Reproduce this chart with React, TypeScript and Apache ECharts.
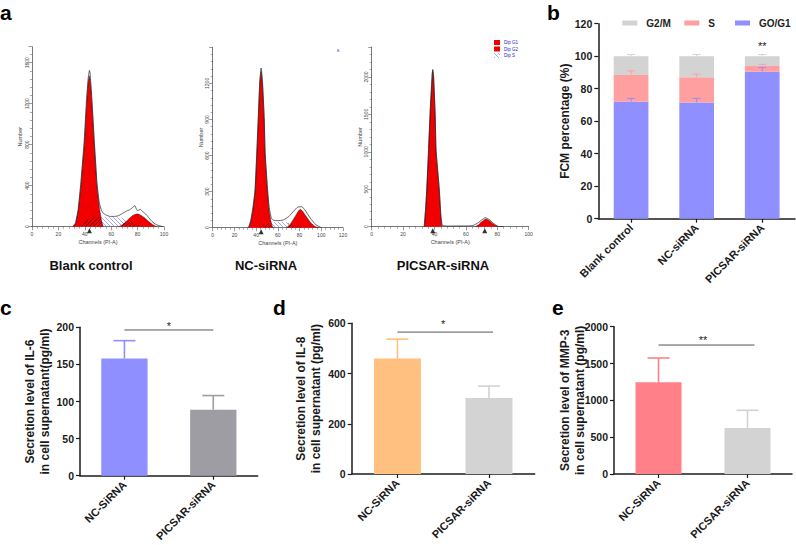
import React, { useEffect, useRef } from "react";
import * as echarts from "echarts";

const FONT = "Liberation Sans";

// ---- panel a : flow cytometry histograms [channel, number]
const a1G1 = [[31,0],[33,30],[35,160],[37,400],[38.3,600],[39.6,800],[40.5,1000],[41.4,1200],[42.5,1400],[43.4,1470],[44.3,1400],[45.4,1200],[46.3,1000],[47.2,800],[48.2,600],[49.2,400],[50,300],[51.5,150],[53,40],[54,0]];
const a1G2 = [[65.4,0],[68,15],[71,45],[74,85],[77,115],[79.8,124],[82,115],[85,90],[88,55],[91,25],[94.4,0]];
const a1S = [[36,0],[38,20],[40,45],[43,70],[46,88],[48,95],[52,98],[55,98],[60,92],[64,90],[68,88],[70,75],[73,55],[76,40],[80,22],[84,10],[88,0]];
const a1Over = [[37,0],[40,45],[43,70],[46,88],[48,95],[50,98],[51.5,90],[53,40],[54,0],[65.4,0],[68,25],[70,40],[73,55],[76,40],[80,22],[84,10],[88,0]];
const a1Out = [[31,0],[33,40],[35,170],[37,430],[39.5,830],[41.3,1240],[42.5,1440],[43.5,1525],[44,1500],[45.3,1260],[47.2,840],[49.2,430],[51,230],[52.8,155],[54,130],[56,115],[59,100],[62,100],[65,105],[67,118],[70,140],[72,155],[74,165],[76,185],[77.9,205],[79,175],[80,155],[82,170],[84,145],[86,125],[88,95],[91,50],[94,20],[97.7,5],[99,0]];
const a1Tri = [[43.5,0]];

const a2G1 = [[33,0],[35,50],[37,150],[39,300],[40.6,600],[42,900],[43.4,1200],[44.6,1300],[45.8,1200],[47.4,900],[48.3,600],[50.5,300],[52,140],[54,40],[55.4,0]];
const a2G2 = [[68,0],[71,25],[74,65],[77,110],[80.6,153],[83,135],[86,95],[90,45],[94,12],[97.5,0]];
const a2S = [[42,0],[46,20],[50,38],[55,45],[60,48],[65,50],[69,45],[73,30],[78,15],[85,0]];
const a2Over = [[44,0],[46,20],[50,38],[53,35],[55.4,0],[68,0],[70,40],[73,30],[78,15],[85,0]];
const a2Out = [[33,0],[35,60],[37,165],[39,320],[40.6,630],[42,930],[43.4,1230],[44.6,1328],[45.8,1225],[47.4,925],[48.3,625],[50.5,320],[52,170],[54,80],[56,62],[60,58],[65,64],[70,92],[75,142],[78,170],[82,175],[85,147],[90,78],[95,25],[100,0]];
const a2Tri = [[44.6,0]];

const a3G1 = [[33.6,0],[34.4,250],[35.1,500],[36.2,1000],[37.2,1500],[38.5,2000],[38.9,2085],[39.4,2000],[40.4,1500],[41,1000],[43,500],[44,150],[44.7,0]];
const a3G2 = [[66,0],[68,25],[70,65],[72.8,103],[75,80],[77.5,35],[80.2,0]];
const a3S = [[44,0],[48,8],[55,10],[62,10],[66,8],[70,0]];
const a3Over = [[64,0],[66,8],[68,8],[70,0]];
const a3Out = [[33.4,0],[34.4,265],[35.1,520],[36.2,1030],[37.2,1530],[38.5,2040],[38.9,2100],[39.4,2030],[40.4,1520],[41,1020],[43,520],[44,170],[44.9,20],[48,8],[55,10],[62,10],[65,20],[68,55],[70,90],[72.5,120],[75,95],[77.5,45],[80.5,5],[84,0]];
const a3Tri = [[38.9,0],[72,0]];

// ---- panel b : stacked percentages
const bCats = ["Blank control", "NC-siRNA", "PICSAR-siRNA"];
const bG1 = [72, 71.5, 90.5];
const bS = [16.5, 15.5, 3.5];
const bG2 = [11.5, 13, 6];
const bG1Top = [74, 74, 93];
const bSTop = [91, 89, 95];
const bG2Top = [101, 101, 101];

// ---- panels c, d, e
const cCats = ["NC-SiRNA", "PICSAR-siRNA"];
const cVals = [158, 89];
const cTops = [182, 108];
const dVals = [460, 303];
const dTops = [537, 350];
const eVals = [1245, 625];
const eTops = [1575, 865];

function hatch(color: string, dir: number) {
  const s = 4;
  const c = document.createElement("canvas");
  c.width = s;
  c.height = s;
  const g = c.getContext("2d") as CanvasRenderingContext2D;
  g.strokeStyle = color;
  g.lineWidth = 0.6;
  g.beginPath();
  if (dir > 0) {
    g.moveTo(0, 0); g.lineTo(s, s);
  } else {
    g.moveTo(s, 0); g.lineTo(0, s);
  }
  g.stroke();
  return c;
}

const tiny = { fontFamily: FONT, fontSize: 5, color: "#444" };
const plain = (v: number) => String(v);

function flowAxes(xMax: number, yMax: number, yInt: number, yGap: number) {
  const line = { show: true, lineStyle: { color: "#555", width: 0.8 } };
  return {
    x: {
      type: "value", min: 0, max: xMax, interval: 20, splitLine: { show: false },
      axisLine: line,
      axisTick: { show: true, length: 3.5, lineStyle: { color: "#555", width: 0.6 } },
      minorTick: { show: true, splitNumber: 5, length: 2, lineStyle: { color: "#555", width: 0.5 } },
      axisLabel: { ...tiny, margin: 5, formatter: plain },
      name: "Channels (PI-A)", nameLocation: "middle", nameGap: 12, nameTextStyle: { ...tiny, fontSize: 5.5 },
    },
    y: {
      type: "value", min: 0, max: yMax, interval: yInt, splitLine: { show: false },
      axisLine: line,
      axisTick: { show: true, length: 3.5, lineStyle: { color: "#555", width: 0.6 } },
      minorTick: { show: true, splitNumber: 5, length: 2, lineStyle: { color: "#555", width: 0.5 } },
      axisLabel: { ...tiny, rotate: 90, margin: 3, showMaxLabel: false, showMinLabel: true, formatter: plain },
      name: "Number", nameLocation: "middle", nameRotate: 90, nameGap: yGap, nameTextStyle: { ...tiny, fontSize: 5.5 },
    },
  };
}

function barAxes(cats: string[], yMax: number, yInt: number, name: string, nameGap: number, nameSize: number) {
  const line = { show: true, lineStyle: { color: "#1c1c1c", width: 1.5 } };
  return {
    x: {
      type: "category", data: cats,
      axisLine: line,
      axisTick: { show: true, alignWithLabel: true, length: 4, lineStyle: { color: "#1c1c1c", width: 1.2 } },
      axisLabel: { fontFamily: FONT, fontWeight: "bold", fontSize: 11, color: "#1a1a1a", rotate: 45, margin: 7, interval: 0 },
    },
    y: {
      type: "value", min: 0, max: yMax, interval: yInt, splitLine: { show: false },
      axisLine: line,
      axisTick: { show: true, length: 4, lineStyle: { color: "#1c1c1c", width: 1.2 } },
      axisLabel: { fontFamily: FONT, fontWeight: "bold", fontSize: 10.5, color: "#1a1a1a", margin: 6, formatter: plain },
      name, nameLocation: "middle", nameRotate: 90, nameGap, nameMoveOverlap: false,
      nameTextStyle: { fontFamily: FONT, fontWeight: "bold", fontSize: nameSize, color: "#1a1a1a", lineHeight: 15 },
    },
  };
}

function errSeries(ax: number, bases: number[], tops: number[], colors: string[], cap: number, w: number) {
  return {
    type: "custom", xAxisIndex: ax, yAxisIndex: ax, z: 4, silent: true,
    data: bases.map((b, i) => [i, b, tops[i]]),
    encode: { x: 0, y: [1, 2] },
    renderItem: (params: any, api: any) => {
      const i = api.value(0);
      const a = api.coord([i, api.value(1)]);
      const b = api.coord([i, api.value(2)]);
      const style = { stroke: colors[params.dataIndex], lineWidth: w, fill: "none" };
      return {
        type: "group",
        children: [
          { type: "line", shape: { x1: a[0], y1: a[1], x2: b[0], y2: b[1] }, style },
          { type: "line", shape: { x1: b[0] - cap / 2, y1: b[1], x2: b[0] + cap / 2, y2: b[1] }, style },
        ],
      };
    },
  };
}

function sigSeries(ax: number, value: number, extraRight: number, star: string, starDx: number, starDy: number, showLine: boolean, from = 0, to = 1) {
  return {
    type: "custom", xAxisIndex: ax, yAxisIndex: ax, z: 5, silent: true,
    data: [[from, to, value]],
    encode: { x: [0, 1], y: 2 },
    renderItem: (_p: any, api: any) => {
      const a = api.coord([api.value(0), api.value(2)]);
      const b = api.coord([api.value(1), api.value(2)]);
      const children: any[] = [];
      if (showLine) {
        children.push({ type: "line", shape: { x1: a[0], y1: a[1], x2: b[0] + extraRight, y2: b[1] }, style: { stroke: "#555", lineWidth: 1, fill: "none" } });
      }
      children.push({
        type: "text",
        style: { text: star, x: (a[0] + b[0]) / 2 + starDx, y: a[1] + starDy, fill: "#222", font: `11px "${FONT}"`, textAlign: "center", textVerticalAlign: "middle" },
      });
      return { type: "group", children };
    },
  };
}

export default function App() {
  const ref = useRef<HTMLDivElement>(null);
  useEffect(() => {
    const chart = echarts.init(ref.current as HTMLDivElement, undefined, { renderer: "svg" });
    const blue = { image: hatch("#6a6ae6", 1), repeat: "repeat" };
    const black = { image: hatch("#111", -1), repeat: "repeat" };

    const flow = (ax: number, g1: number[][], g2: number[][], s: number[][], over: number[][], out: number[][], tri: number[][], named: boolean) => {
      const area = (data: number[][], color: any, name: string, line = 0) => ({
        type: "line", name, xAxisIndex: ax, yAxisIndex: ax, data, showSymbol: false, symbol: "none", smooth: 0.2,
        itemStyle: { color },
        lineStyle: { width: line, color: "#000" },
        areaStyle: { color, opacity: 1 },
        silent: true,
      });
      return [
        area(s, blue, named ? "Dip S" : "s" + ax),
        area(g1, "#f00000", named ? "Dip G1" : "g1" + ax, 0.4),
        area(g2, "#f00000", named ? "Dip G2" : "g2" + ax, 0.4),
        area(over, black, "over" + ax),
        {
          type: "line", name: "out" + ax, xAxisIndex: ax, yAxisIndex: ax, data: out, showSymbol: false, symbol: "none", smooth: 0.1, silent: true,
          lineStyle: { width: 0.7, color: "#222" },
        },
        {
          type: "scatter", name: "tri" + ax, xAxisIndex: ax, yAxisIndex: ax, data: tri, symbol: "triangle", symbolSize: [5, 5], symbolOffset: [0, 4], clip: false,
          itemStyle: { color: "#000" }, silent: true,
        },
      ];
    };

    const axes = [
      flowAxes(100, 1756, 400, 2),
      flowAxes(120, 1500, 300, 2),
      flowAxes(100, 2400, 500, 5),
      barAxes(bCats, 120, 20, "FCM percentage (%)", 26, 12),
      barAxes(cCats, 200, 50, "Secretion level of IL-6\nin cell supernatant(pg/ml)", 28, 12),
      barAxes(cCats, 600, 200, "Secretion level of IL-8\nin cell supernatant (pg/ml)", 28, 12),
      barAxes(cCats, 2000, 500, "Secretion level of MMP-3\nin cell supernatant (pg/ml)", 27, 12),
    ];

    const grids = [
      { left: 32, top: 46.7, width: 132, height: 180 },
      { left: 212.7, top: 47.3, width: 130.3, height: 180.4 },
      { left: 371.7, top: 47, width: 157, height: 179.7 },
      { left: 598.3, top: 23.7, width: 196.7, height: 195 },
      { left: 80, top: 327.3, width: 177.7, height: 148.4 },
      { left: 351.7, top: 323.3, width: 183, height: 150.7 },
      { left: 614, top: 326.7, width: 178, height: 147.3 },
    ];

    const bar = (name: string, vals: number[], color: string) => ({
      type: "bar", name, stack: "b", xAxisIndex: 3, yAxisIndex: 3, data: vals, barWidth: 34.7, itemStyle: { color }, silent: true,
    });
    const single = (ax: number, vals: number[], colors: string[], width: number) => ({
      type: "bar", name: "bar" + ax, xAxisIndex: ax, yAxisIndex: ax, barWidth: width, silent: true,
      data: vals.map((v, i) => ({ value: v, itemStyle: { color: colors[i] } })),
    });

    const BLUE = "#8f8fff", PINK = "#ff9f9f", GRAY = "#d3d3d3";
    const cColors = [BLUE, "#9d9da3"];
    const dColors = ["#ffc080", GRAY];
    const eColors = ["#ff8088", GRAY];

    const legendB = (name: string, left: number) => ({
      data: [name], left, top: 18, itemWidth: 15, itemHeight: 5, itemGap: 0, padding: 0, icon: "rect",
      selectedMode: false,
      textStyle: { fontFamily: FONT, fontWeight: "bold", fontSize: 10, color: "#222", padding: [0, 0, 0, 4] },
    });

    const panelLetter = (t: string, x: number, y: number) => ({
      type: "text", x, y,
      style: { text: t, fill: "#000", font: `bold 21px "${FONT}"`, textAlign: "left", textVerticalAlign: "bottom" },
    });
    const capt = (t: string, x: number) => ({
      type: "text", x, y: 265,
      style: { text: t, fill: "#111", font: `bold 13px "${FONT}"`, textAlign: "center", textVerticalAlign: "middle" },
    });

    chart.setOption({
      animation: false,
      backgroundColor: "#fff",
      textStyle: { fontFamily: FONT },
      grid: grids,
      xAxis: axes.map((a, i) => ({ ...a.x, gridIndex: i })),
      yAxis: axes.map((a, i) => ({ ...a.y, gridIndex: i })),
      legend: [
        legendB("G2/M", 622.3),
        legendB("S", 684.3),
        legendB("GO/G1", 735),
        {
          data: ["Dip G1", "Dip G2", "Dip S"], orient: "vertical", left: 494, top: 40, itemWidth: 6, itemHeight: 5, itemGap: 1.5, padding: 0, icon: "rect",
          selectedMode: false,
          textStyle: { fontFamily: FONT, fontSize: 4.5, color: "#2222cc", padding: [0, 0, 0, -1] },
        },
      ],
      graphic: [
        panelLetter("a", 0, 23),
        panelLetter("b", 547, 23),
        panelLetter("c", 0, 318),
        panelLetter("d", 273, 318),
        panelLetter("e", 552, 318),
        capt("Blank control", 91),
        capt("NC-siRNA", 266),
        capt("PICSAR-siRNA", 443),
        { type: "text", x: 337, y: 48, style: { text: "s", fill: "#2222cc", font: `4.5px "${FONT}"` } },
      ],
      series: [
        ...flow(0, a1G1, a1G2, a1S, a1Over, a1Out, a1Tri, false),
        ...flow(1, a2G1, a2G2, a2S, a2Over, a2Out, a2Tri, false),
        ...flow(2, a3G1, a3G2, a3S, a3Over, a3Out, a3Tri, true),
        bar("GO/G1", bG1, BLUE),
        bar("S", bS, PINK),
        bar("G2/M", bG2, GRAY),
        errSeries(3, bG1, bG1Top, [BLUE, BLUE, BLUE], 8, 1),
        errSeries(3, bG1.map((v, i) => v + bS[i]), bSTop, [PINK, PINK, PINK], 8, 1),
        errSeries(3, bG1.map((v, i) => v + bS[i] + bG2[i]), bG2Top, [GRAY, GRAY, GRAY], 8, 1),
        sigSeries(3, 106, 0, "**", 0, 0, false, 2, 2),
        single(4, cVals, cColors, 46.3),
        errSeries(4, cVals, cTops, cColors, 22, 1.6),
        sigSeries(4, 196.4, 0, "*", 0, -4, true),
        single(5, dVals, dColors, 47),
        errSeries(5, dVals, dTops, dColors, 22, 1.6),
        sigSeries(5, 565, 4, "*", 0, -8, true),
        single(6, eVals, eColors, 46),
        errSeries(6, eVals, eTops, eColors, 22, 1.6),
        sigSeries(6, 1751, 7, "**", 0, -5, true),
      ],
    });
    return () => chart.dispose();
  }, []);
  return <div ref={ref} style={{ position: "fixed", left: 0, top: 0, width: 796, height: 545, background: "#fff" }} />;
}
